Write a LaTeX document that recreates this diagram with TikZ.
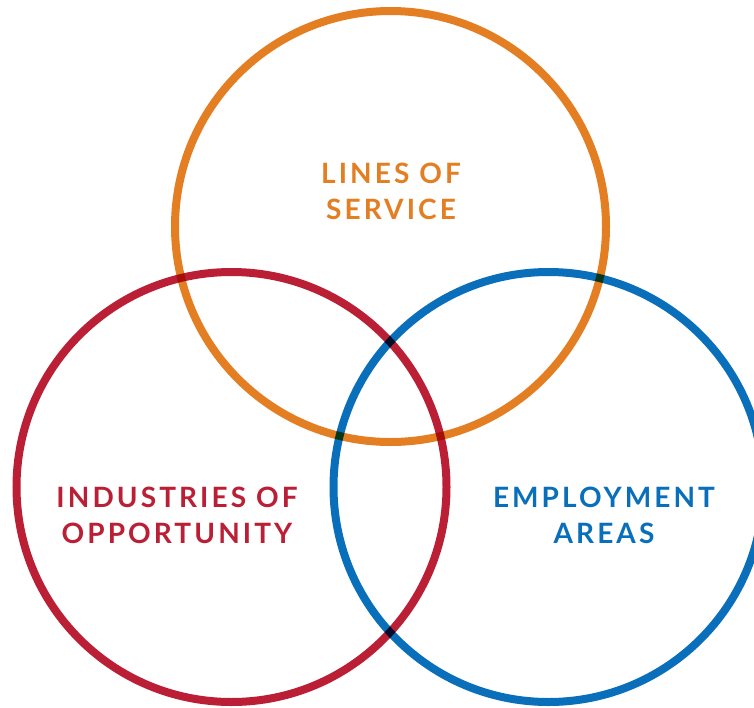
\documentclass[tikz,border=0pt]{standalone}
\usepackage{fontspec}
\setmainfont{Lato}
\newfontfamily\labfont[LetterSpace=11]{Lato Bold}
\definecolor{cOrange}{HTML}{E37E22}
\definecolor{cRed}{HTML}{BA1F35}
\definecolor{cBlue}{HTML}{0A6FBA}
\tikzset{
  ring/.style={line width=8pt},
  lab/.style={align=center, font=\labfont\fontsize{28}{36}\selectfont, inner sep=0pt}
}
\begin{document}
\begin{tikzpicture}[x=1pt,y=-1pt]
\useasboundingbox (0,0) rectangle (754,707);
\clip (0,0) rectangle (754,707);
\begin{scope}[blend group=multiply]
\draw[ring, cOrange] (390.5,226.5) circle[radius=215.5];
\draw[ring, cRed] (231.5,487) circle[radius=215];
\draw[ring, cBlue] (548.5,487) circle[radius=215];
\end{scope}
\node[lab, text=cOrange] (los) at (391,191) {LINES OF\\SERVICE};
\node[lab, text=cRed] (ioo) at (177,515) {INDUSTRIES OF\\OPPORTUNITY};
\node[lab, text=cBlue] (ea) at (604,515) {EMPLOYMENT\\AREAS};
\end{tikzpicture}
\end{document}
